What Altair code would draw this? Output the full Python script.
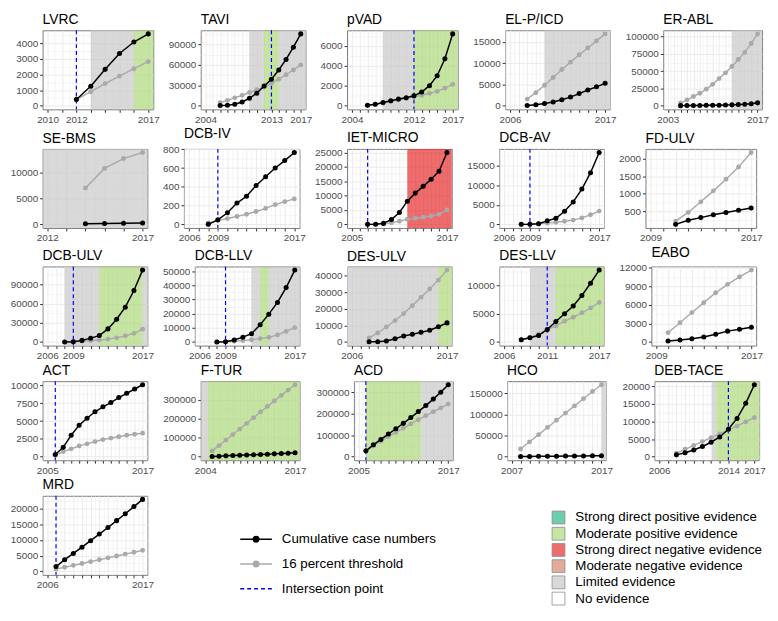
import altair as alt
import pandas as pd

FONT = "Liberation Sans"
LAST_YEAR = 2017
OPEN_START = 1990   # evidence period open to the left (clipped)
OPEN_END = 2030     # evidence period open to the right (clipped)

NAMES = ["LVRC", "TAVI", "pVAD", "EL-P/ICD", "ER-ABL",
         "SE-BMS", "DCB-IV", "IET-MICRO", "DCB-AV", "FD-ULV",
         "DCB-ULV", "DCB-LLV", "DES-ULV", "DES-LLV", "EABO",
         "ACT", "F-TUR", "ACD", "HCO", "DEB-TACE", "MRD"]
AXIS_START = [2010, 2004, 2004, 2006, 2003,
              2012, 2006, 2005, 2006, 2009,
              2006, 2006, 2006, 2006, 2009,
              2005, 2004, 2005, 2007, 2006, 2006]
LABEL_YEARS = [[2010, 2012, 2017], [2004, 2013, 2017], [2004, 2012, 2017], [2006, 2017], [2003, 2017],
               [2012, 2017], [2006, 2009, 2017], [2005, 2017], [2006, 2009, 2017], [2009, 2017],
               [2006, 2009, 2017], [2006, 2009, 2017], [2006, 2017], [2006, 2011, 2017], [2009, 2017],
               [2005, 2017], [2004, 2017], [2005, 2017], [2007, 2017], [2006, 2014, 2017], [2006, 2017]]
FIRST_YEAR = [2012, 2006, 2006, 2008, 2005,
              2014, 2008, 2007, 2008, 2011,
              2008, 2008, 2008, 2008, 2010,
              2006, 2005, 2006, 2008, 2008, 2007]
INTERSECTION = [2012, 2013, 2012, None, None,
                None, 2009, 2007, 2009, None,
                2009, 2009, None, 2011, None,
                2006, None, 2006, None, 2014, 2007]
Y_TICKS = [[0, 1000, 2000, 3000, 4000], [0, 30000, 60000, 90000], [0, 2000, 4000, 6000],
           [0, 5000, 10000, 15000], [0, 25000, 50000, 75000, 100000],
           [0, 5000, 10000], [0, 200, 400, 600, 800], [0, 5000, 10000, 15000, 20000, 25000],
           [0, 5000, 10000, 15000], [500, 1000, 1500, 2000],
           [0, 30000, 60000, 90000], [0, 10000, 20000, 30000, 40000, 50000],
           [0, 10000, 20000, 30000, 40000], [0, 5000, 10000], [0, 3000, 6000, 9000, 12000],
           [0, 2500, 5000, 7500, 10000], [0, 100000, 200000, 300000], [0, 100000, 200000, 300000],
           [0, 50000, 100000, 150000], [0, 5000, 10000, 15000, 20000], [0, 5000, 10000, 15000, 20000]]
# panels whose y range does not reach down to zero
NO_ZERO = ["FD-ULV"]

# cumulative case numbers (black) and 16 percent threshold (grey), from FIRST_YEAR to 2017
CUM_LVRC = [400, 1250, 2330, 3350, 4080, 4600]
THR_LVRC = [400, 900, 1420, 1900, 2370, 2830]
CUM_TAVI = [500, 800, 2300, 5500, 11000, 18500, 29000, 39000, 52500, 68000, 86000, 105500]
THR_TAVI = [4700, 8000, 11700, 15300, 19500, 23500, 27500, 33000, 39000, 45500, 52500, 60000]
CUM_PVAD = [60, 160, 320, 510, 670, 800, 1000, 1380, 2020, 3020, 4720, 7220]
THR_PVAD = [40, 130, 260, 420, 580, 740, 900, 1060, 1250, 1440, 1770, 2150]
CUM_ELP = [50, 230, 530, 900, 1430, 2040, 2870, 3700, 4450, 5280]
THR_ELP = [1580, 3090, 4830, 6640, 8530, 10260, 12000, 13580, 15250, 16900]
CUM_ERABL = [200, 300, 400, 500, 600, 700, 850, 1000, 1300, 1700, 2200, 3000, 4200]
THR_ERABL = [4150, 8300, 13400, 18000, 24000, 30900, 39200, 47500, 56700, 66800, 77000, 89900, 103700]
CUM_SEBMS = [100, 150, 200, 250]
THR_SEBMS = [7040, 10860, 12780, 13950]
CUM_DCBIV = [0, 48, 124, 227, 299, 415, 508, 601, 680, 766]
THR_DCBIV = [15, 40, 62, 85, 108, 137, 170, 210, 242, 271]
CUM_IET = [0, 50, 340, 1680, 4150, 8070, 10870, 13230, 15700, 18500, 25000]
THR_IET = [0, 100, 250, 560, 1120, 1790, 2130, 2470, 2910, 3480, 5040]
CUM_DCBAV = [0, 20, 160, 900, 1560, 3360, 5740, 9020, 13200, 18360]
THR_DCBAV = [0, 20, 150, 330, 550, 800, 1100, 1650, 2450, 3400]
CUM_FDULV = [122, 242, 315, 398, 463, 528, 592]
THR_FDULV = [215, 463, 767, 1080, 1412, 1762, 2177]
CUM_DCBULV = [0, 500, 2500, 6000, 10000, 20500, 35500, 54500, 80500, 112500]
THR_DCBULV = [200, 400, 1200, 2000, 3000, 4500, 6500, 9500, 13500, 20000]
CUM_DCBLLV = [0, 200, 1360, 3400, 5900, 12200, 19700, 28000, 38500, 50900]
THR_DCBLLV = [100, 200, 500, 1000, 1600, 2400, 3300, 5000, 7500, 10200]
CUM_DESULV = [100, 200, 600, 1900, 3650, 4600, 5800, 7100, 9200, 11500]
THR_DESULV = [2500, 5400, 9000, 12900, 17100, 21900, 26900, 31900, 37300, 43300]
CUM_DESLLV = [400, 740, 1140, 2220, 3640, 5000, 6360, 8240, 10400, 12730]
THR_DESLLV = [400, 800, 1400, 2200, 2840, 3690, 4375, 5170, 6020, 7000]
CUM_EABO = [150, 320, 520, 800, 1250, 1750, 2050, 2380]
THR_EABO = [1500, 3100, 4750, 6350, 7950, 9300, 10500, 11600]
CUM_ACT = [300, 1300, 3000, 4400, 5400, 6300, 7000, 7600, 8300, 8900, 9500, 10100]
THR_ACT = [200, 700, 1100, 1500, 1800, 2100, 2400, 2600, 2800, 3000, 3150, 3300]
CUM_FTUR = [1000, 2500, 4000, 5500, 7000, 8500, 10000, 11500, 13000, 14500, 16000, 18000, 20000]
THR_FTUR = [30000, 58000, 87000, 116000, 145000, 175000, 205000, 235000, 264000, 293000, 322000, 350000, 378000]
CUM_ACD = [27000, 55000, 80000, 105000, 130000, 155000, 182000, 210000, 238000, 268000, 300000, 335000]
THR_ACD = [27000, 50000, 72000, 93000, 113000, 133000, 153000, 172000, 191000, 209000, 227000, 245000]
CUM_HCO = [300, 500, 700, 900, 1100, 1300, 1500, 1700, 1900, 2100]
THR_HCO = [18000, 35000, 52000, 69000, 86000, 103000, 120000, 137000, 154000, 170000]
CUM_DEBTACE = [500, 1100, 1900, 2900, 4100, 5600, 7800, 10900, 15200, 20500]
THR_DEBTACE = [1000, 2100, 3200, 4300, 5400, 6500, 7600, 8700, 9900, 11100]
CUM_MRD = [1500, 3700, 5700, 7700, 9800, 11900, 14000, 16200, 18400, 20700, 23000]
THR_MRD = [700, 1300, 1900, 2500, 3100, 3700, 4300, 4900, 5500, 6100, 6700]

CUM = [CUM_LVRC, CUM_TAVI, CUM_PVAD, CUM_ELP, CUM_ERABL, CUM_SEBMS, CUM_DCBIV, CUM_IET, CUM_DCBAV,
       CUM_FDULV, CUM_DCBULV, CUM_DCBLLV, CUM_DESULV, CUM_DESLLV, CUM_EABO, CUM_ACT, CUM_FTUR,
       CUM_ACD, CUM_HCO, CUM_DEBTACE, CUM_MRD]
THR = [THR_LVRC, THR_TAVI, THR_PVAD, THR_ELP, THR_ERABL, THR_SEBMS, THR_DCBIV, THR_IET, THR_DCBAV,
       THR_FDULV, THR_DCBULV, THR_DCBLLV, THR_DESULV, THR_DESLLV, THR_EABO, THR_ACT, THR_FTUR,
       THR_ACD, THR_HCO, THR_DEBTACE, THR_MRD]

CATS = ["Strong direct positive evidence", "Moderate positive evidence",
        "Strong direct negative evidence", "Moderate negative evidence",
        "Limited evidence", "No evidence"]
CAT_COLORS = ["#30B886", "#AED87A", "#E72D2D", "#D68670", "#C9C9C9", "#FFFFFF"]
SP, MP, SN, MN, LE = CATS[0], CATS[1], CATS[2], CATS[3], CATS[4]

# evidence periods: (category, start year, end year)
SHADES = [
    [(LE, 2013, 2016), (MP, 2016, OPEN_END)],
    [(LE, 2010, 2012), (MP, 2012, 2014), (LE, 2014, OPEN_END)],
    [(LE, 2008, 2012), (MP, 2012, OPEN_END)],
    [(LE, 2010, OPEN_END)],
    [(LE, 2013, OPEN_END)],
    [(LE, OPEN_START, OPEN_END)],
    [],
    [(SN, 2012, OPEN_END)],
    [],
    [],
    [(LE, 2008, 2012), (MP, 2012, 2017), (LE, 2017, OPEN_END)],
    [(LE, 2012, 2013), (MP, 2013, 2014), (LE, 2014, OPEN_END)],
    [(LE, OPEN_START, 2016), (MP, 2016, OPEN_END)],
    [(LE, 2009, 2012), (MP, 2012, OPEN_END)],
    [],
    [],
    [(LE, OPEN_START, 2004.4), (MP, 2004.4, OPEN_END)],
    [(MP, 2006, 2013.4), (LE, 2013.4, OPEN_END)],
    [(LE, 2017, OPEN_END)],
    [(LE, 2012.1, 2012.6), (MP, 2012.6, OPEN_END)],
    [],
]

LEG1_LABELS = ["Cumulative case numbers", "16 percent threshold", "Intersection point"]
LEG1_COLORS = ["black", "#A9A9A9", "blue"]

GREY = "#A9A9A9"
GRID = "#EBEBEB"
BORDER = "#7A7A7A"
PANEL_H = 80
SLOT = 140


def panel(i):
    name = NAMES[i]
    x0 = AXIS_START[i]
    pad = 0.05 * (LAST_YEAR - x0)
    xdom = [x0 - pad, LAST_YEAR + pad]
    years = list(range(FIRST_YEAR[i], LAST_YEAR + 1))
    cum, thr = CUM[i], THR[i]
    vals = cum + thr if name in NO_ZERO else cum + thr + [0]
    lo, hi = min(vals), max(vals)
    r = hi - lo
    ydom = [lo - 0.05 * r, hi + 0.05 * r]
    yt = Y_TICKS[i]
    step = yt[1] - yt[0]
    y_minor = [t + step / 2 for t in range(yt[0] - step, yt[-1] + step, step)]
    y_minor = [v for v in y_minor if ydom[0] <= v <= ydom[1]]
    x_major = list(range(x0, LAST_YEAR + 1))
    x_minor = [y + 0.5 for y in range(x0 - 1, LAST_YEAR + 1)]
    x_minor = [v for v in x_minor if xdom[0] <= v <= xdom[1]]

    ext = round(5.6 * max(len(str(t)) for t in yt) + 6)
    width = SLOT - ext

    xs = alt.Scale(domain=xdom, nice=False, zero=False)
    ys = alt.Scale(domain=ydom, nice=False, zero=False)
    df_c = pd.DataFrame({"year": years, "value": cum})
    df_t = pd.DataFrame({"year": years, "value": thr})

    labels = LABEL_YEARS[i]
    lab_expr = "indexof(" + str(labels) + ", datum.value) >= 0 ? datum.label : ''"

    layers = []
    minor = alt.Chart(df_c).mark_point(opacity=0).encode(
        x=alt.X("year:Q", scale=xs, axis=alt.Axis(
            orient="top", values=x_minor, grid=True, gridColor=GRID, gridWidth=0.5,
            labels=False, ticks=False, domain=False, title=None, minExtent=0, maxExtent=0)),
        y=alt.Y("value:Q", scale=ys, axis=alt.Axis(
            orient="right", values=y_minor, grid=True, gridColor=GRID, gridWidth=0.5,
            labels=False, ticks=False, domain=False, title=None, minExtent=0, maxExtent=0)),
    )
    layers.append(minor)

    if SHADES[i]:
        df_s = pd.DataFrame({"cat": [s[0] for s in SHADES[i]],
                             "start": [s[1] for s in SHADES[i]],
                             "end": [s[2] for s in SHADES[i]]})
        shade = alt.Chart(df_s).mark_rect(clip=True, fillOpacity=0.7).encode(
            x=alt.X("start:Q", scale=xs, axis=None),
            x2="end:Q",
            fill=alt.Fill("cat:N", scale=alt.Scale(domain=CATS, range=CAT_COLORS), legend=None),
        )
        layers.append(shade)

    if INTERSECTION[i] is not None:
        vl = alt.Chart(pd.DataFrame({"year": [INTERSECTION[i]]})).mark_rule(
            color="blue", strokeDash=[4, 3], strokeWidth=1.2).encode(
            x=alt.X("year:Q", scale=xs, axis=None))
        layers.append(vl)

    thr_layer = alt.Chart(df_t).mark_line(
        color=GREY, strokeWidth=1.4,
        point=alt.OverlayMarkDef(filled=True, size=24, color=GREY, opacity=1)).encode(
        x=alt.X("year:Q", scale=xs, axis=alt.Axis(
            orient="bottom", values=x_major, format="d", labelExpr=lab_expr,
            grid=True, gridColor=GRID, gridWidth=1, domain=False, title=None,
            tickSize=3, tickColor="#333333", labelPadding=2, labelOverlap=False,
            labelFlush=False)),
        y=alt.Y("value:Q", scale=ys, axis=alt.Axis(
            orient="left", values=yt, format="d", grid=True, gridColor=GRID, gridWidth=1,
            domain=False, title=None, tickSize=3, tickColor="#333333", labelPadding=2,
            labelOverlap=False, minExtent=ext, maxExtent=ext)),
    )
    layers.append(thr_layer)

    cum_layer = alt.Chart(df_c).mark_line(
        color="black", strokeWidth=1.5,
        point=alt.OverlayMarkDef(filled=True, size=26, color="black", opacity=1)).encode(
        x=alt.X("year:Q", scale=xs, axis=None),
        y=alt.Y("value:Q", scale=ys, axis=None),
    )
    layers.append(cum_layer)

    return alt.layer(*layers).resolve_axis(x="independent", y="independent").properties(
        width=width, height=PANEL_H,
        title=alt.TitleParams(name, anchor="start", frame="group", fontSize=14,
                              fontWeight="normal", font=FONT, color="black", offset=3))


# ---- legend 1: series
leg1_df = pd.DataFrame({"label": LEG1_LABELS})
y1 = alt.Y("label:N", sort=LEG1_LABELS, axis=None,
           scale=alt.Scale(type="point", domain=LEG1_LABELS, range=[44, 94], padding=0))
c1 = alt.Color("label:N", scale=alt.Scale(domain=LEG1_LABELS, range=LEG1_COLORS), legend=None)
leg1_lines = alt.Chart(leg1_df).mark_rule(strokeWidth=1.5).encode(
    y=y1, x=alt.value(4), x2=alt.value(36), color=c1,
    strokeDash=alt.StrokeDash("label:N", scale=alt.Scale(domain=LEG1_LABELS,
                                                          range=[[1, 0], [1, 0], [4, 3]]), legend=None))
leg1_pts = alt.Chart(leg1_df).transform_filter(
    alt.FieldOneOfPredicate(field="label", oneOf=LEG1_LABELS[:2])).mark_circle(
    size=49, opacity=1).encode(y=y1, x=alt.value(20), color=c1)
leg1_txt = alt.Chart(leg1_df).mark_text(align="left", baseline="middle", fontSize=13.5,
                                        font=FONT, color="black").encode(
    y=y1, x=alt.value(46), text="label:N")
leg1 = alt.layer(leg1_lines, leg1_pts, leg1_txt).properties(
    width=232, height=80, view=alt.ViewBackground(stroke="transparent"))

# ---- legend 2: evidence
leg2_df = pd.DataFrame({"cat": CATS})
y2 = alt.Y("cat:N", sort=CATS, axis=None,
           scale=alt.Scale(type="point", domain=CATS, range=[22, 104], padding=0))
leg2_sq = alt.Chart(leg2_df).mark_square(size=169, filled=True, opacity=1, fillOpacity=0.7,
                                          stroke="#8C8C8C", strokeWidth=0.8, strokeOpacity=1).encode(
    y=y2, x=alt.value(10),
    fill=alt.Fill("cat:N", scale=alt.Scale(domain=CATS, range=CAT_COLORS), legend=None))
leg2_txt = alt.Chart(leg2_df).mark_text(align="left", baseline="middle", fontSize=13.5,
                                        font=FONT, color="black").encode(
    y=y2, x=alt.value(27), text="cat:N")
leg2 = alt.layer(leg2_sq, leg2_txt).properties(
    width=195, height=80, view=alt.ViewBackground(stroke="transparent"))

rows = []
for r in range(4):
    rows.append(alt.hconcat(*[panel(i) for i in range(r * 5, r * 5 + 5)], spacing=6))
rows.append(alt.hconcat(panel(20), leg1, leg2, spacing=82))

chart = alt.vconcat(*rows, spacing=1).properties(padding=0).configure_view(
    stroke=BORDER, strokeWidth=1
).configure_axis(
    labelFont=FONT, labelFontSize=10, labelColor="#4D4D4D"
).configure_title(font=FONT)

chart.save("out.html", embed_options={"renderer": "svg", "actions": False})
